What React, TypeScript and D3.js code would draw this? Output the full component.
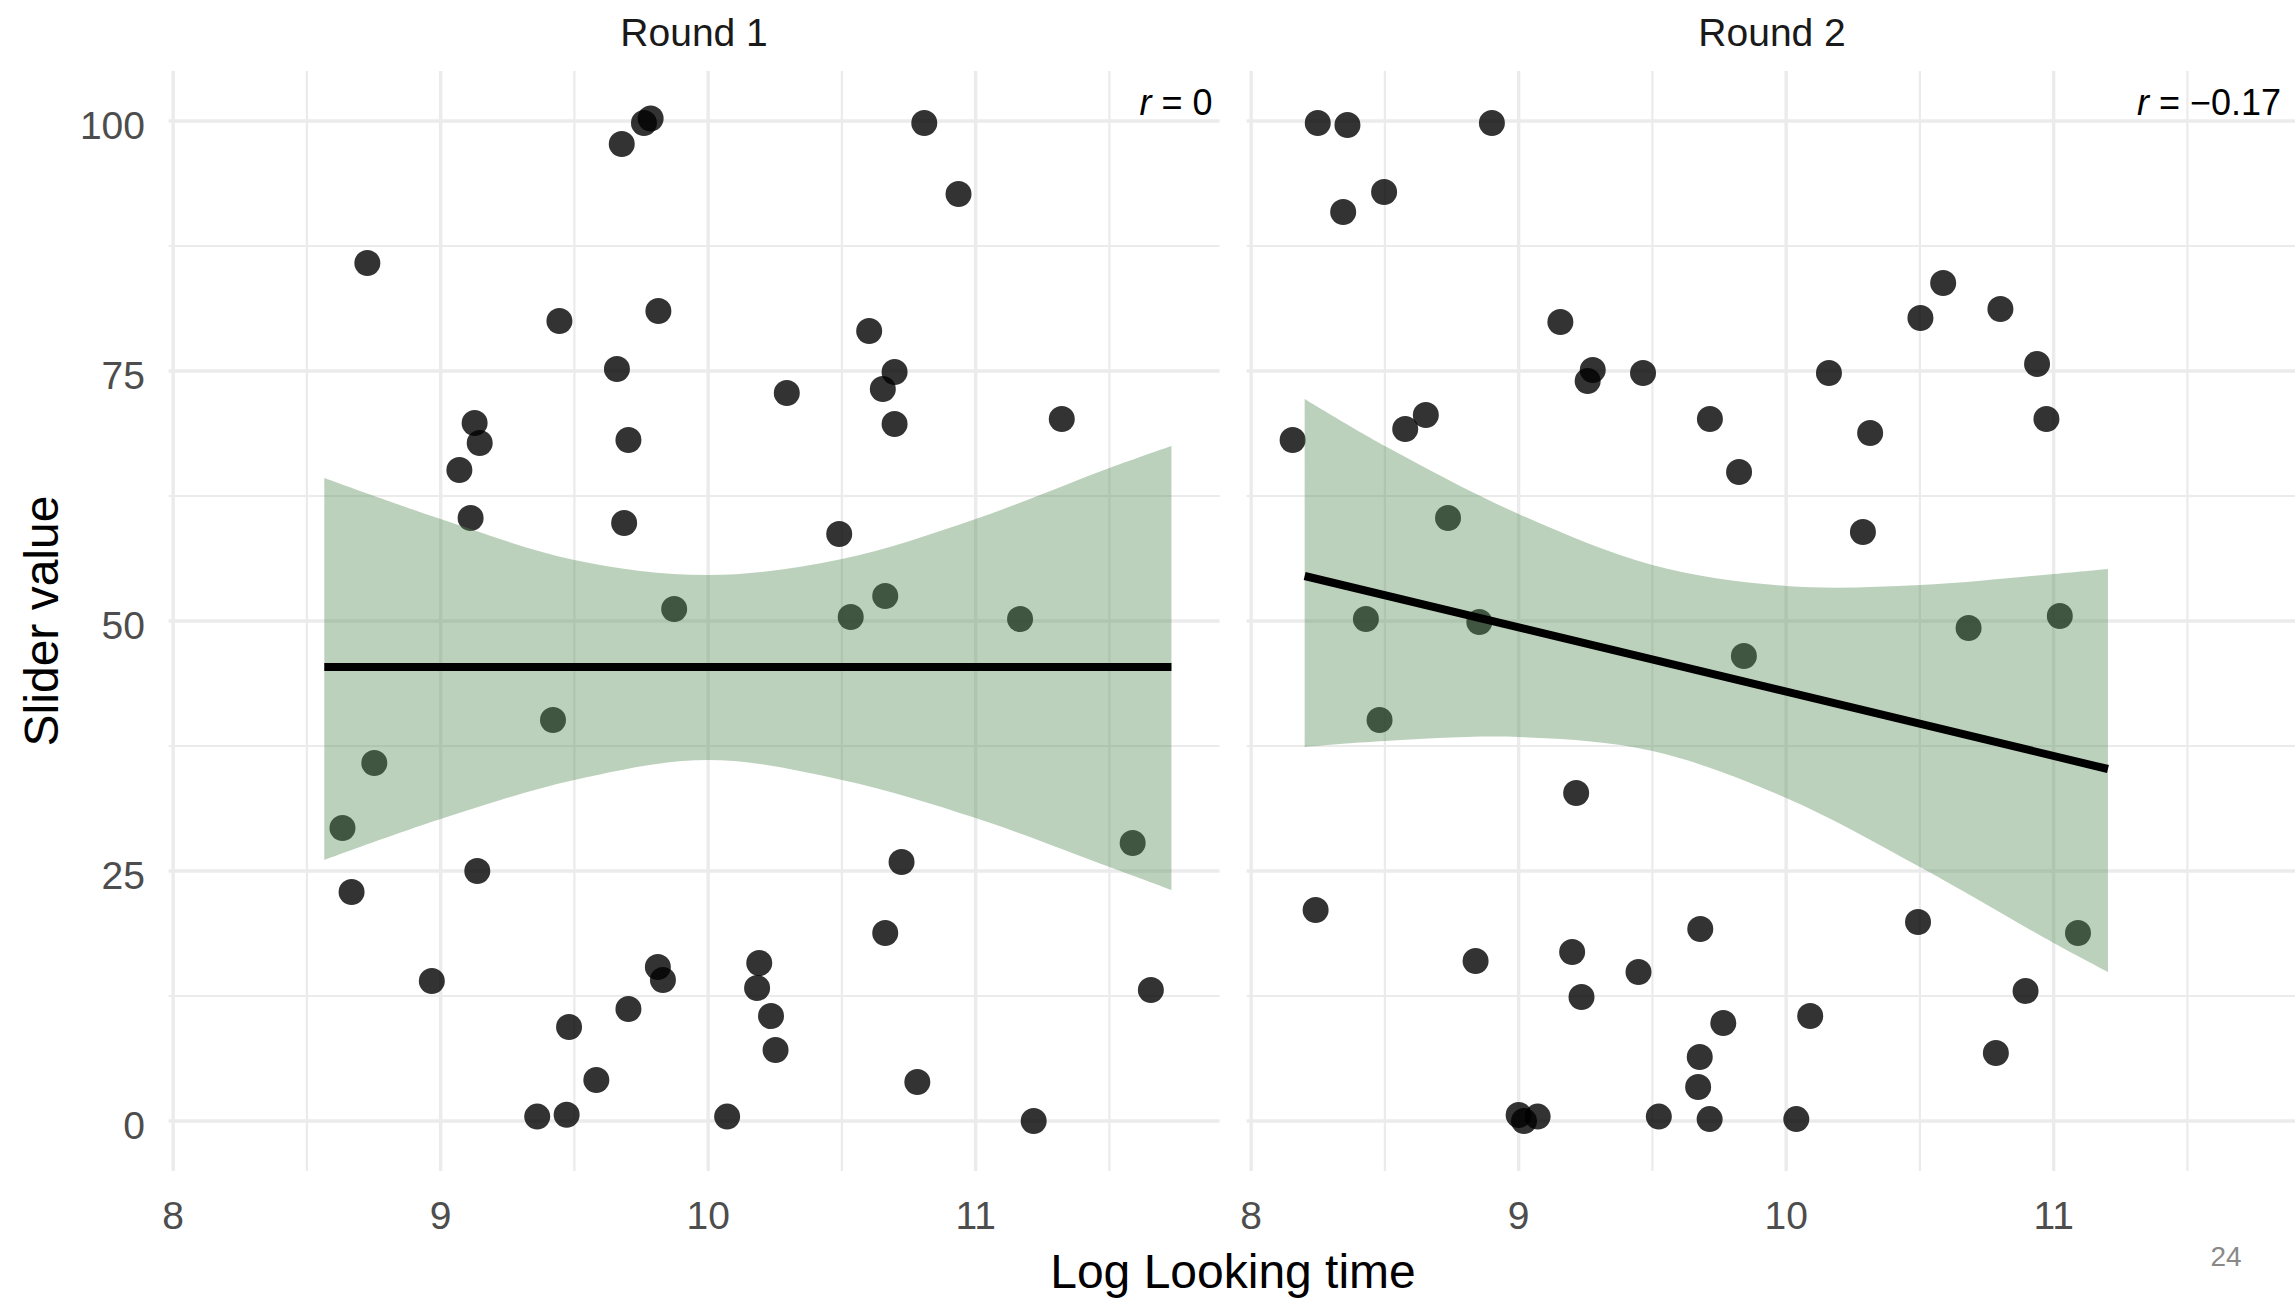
import React from 'react';
import * as d3 from 'd3';

// ---- data ----
const panelTitles = ['Round 1', 'Round 2'];
const corrValues = ['0', '\u22120.17'];
const corrLabelX = [11.886, 11.85];

const round1X = [8.726, 9.760, 9.785, 9.677, 9.444, 9.814, 9.659, 9.127, 9.146, 9.070, 9.702, 9.112, 9.686, 9.873,
  10.808, 10.936, 10.602, 10.697, 10.653, 10.697, 10.294, 11.322, 10.490, 10.662, 10.533, 11.166,
  8.752, 8.633, 9.420, 8.667, 9.137, 8.967, 9.812, 9.831, 9.702, 9.480, 9.582, 9.361, 9.471,
  10.723, 10.662, 10.191, 10.183, 10.235, 10.252, 10.782, 10.071, 11.217, 11.655, 11.587];
const round1Y = [85.8, 99.8, 100.25, 97.7, 80.0, 81.0, 75.2, 69.8, 67.8, 65.1, 68.1, 60.3, 59.8, 51.2,
  99.8, 92.7, 79.0, 74.9, 73.2, 69.7, 72.8, 70.2, 58.7, 52.5, 50.4, 50.2,
  35.8, 29.3, 40.1, 22.9, 25.0, 14.0, 15.4, 14.1, 11.2, 9.4, 4.1, 0.44, 0.62,
  25.9, 18.8, 15.8, 13.3, 10.5, 7.1, 3.9, 0.44, 0, 13.1, 27.8];

const round2X = [8.249, 8.360, 8.900, 8.497, 8.344, 9.156, 9.277, 9.258, 9.465, 9.715, 9.824, 8.155, 8.576, 8.653,
  8.736, 8.429, 8.853, 10.587, 10.502, 10.801, 10.938, 10.973, 10.160, 10.314, 10.287, 11.023, 10.682,
  8.480, 9.842, 9.215, 8.241, 8.839, 9.200, 9.235, 9.448, 9.679, 9.765, 9.677, 9.671, 9.524, 9.714,
  9.000, 9.020, 9.071, 11.091, 10.493, 10.895, 10.784, 10.090, 10.038];
const round2Y = [99.8, 99.6, 99.8, 92.9, 90.9, 79.9, 75.1, 74.0, 74.8, 70.2, 64.9, 68.1, 69.2, 70.6,
  60.3, 50.2, 49.9, 83.8, 80.3, 81.2, 75.7, 70.2, 74.8, 68.8, 58.9, 50.5, 49.3,
  40.1, 46.5, 32.8, 21.1, 16.0, 16.9, 12.4, 14.9, 19.2, 9.8, 6.4, 3.4, 0.44, 0.19,
  0.6, 0, 0.44, 18.8, 19.9, 13.0, 6.8, 10.5, 0.19];

// fitted lines (end points) and confidence bands
const fit1X = [8.565, 11.732];
const fit1Y = [45.4, 45.4];
const fit2X = [8.2, 11.203];
const fit2Y = [54.5, 35.2];

const band1X = [8.565, 9.0, 9.5, 10.0, 10.5, 11.0, 11.5, 11.732];
const band1Lo = [26.1, 30.2, 34.1, 36.1, 34.1, 30.3, 25.4, 23.1];
const band1Hi = [64.3, 60.2, 56.1, 54.6, 56.2, 60.2, 65.3, 67.5];
const band2X = [8.2, 8.5, 9.0, 9.5, 10.0, 10.5, 11.0, 11.203];
const band2Lo = [37.4, 38.0, 38.4, 37.0, 32.3, 25.4, 17.8, 14.9];
const band2Hi = [72.2, 67.5, 60.7, 55.6, 53.5, 53.6, 54.7, 55.2];

const xTicks = [8, 9, 10, 11];
const xMinor = [8.5, 9.5, 10.5, 11.5];
const yTicks = [0, 25, 50, 75, 100];
const yMinor = [12.5, 37.5, 62.5, 87.5];

const panels = [
  { xs: round1X, ys: round1Y, fx: fit1X, fy: fit1Y, bx: band1X, lo: band1Lo, hi: band1Hi },
  { xs: round2X, ys: round2Y, fx: fit2X, fy: fit2Y, bx: band2X, lo: band2Lo, hi: band2Hi },
];

const W = 2295;
const H = 1303;
const font = '"Liberation Sans", Arial, sans-serif';

export default function App() {
  const panelLeft = [168.6, 1246.6];
  const panelW = 1051;
  const top = 71;
  const bottom = 1171;

  const y = d3.scaleLinear().domain([-5, 105]).range([bottom, top]);

  return (
    <svg width={W} height={H} style={{ position: 'absolute', left: 0, top: 0, background: '#fff' }}
      fontFamily={font}>
      {panels.map((p, i) => {
        const x = d3.scaleLinear().domain([7.983, 11.912]).range([panelLeft[i], panelLeft[i] + panelW]);
        const area = d3.area<number>()
          .x((_, j) => x(p.bx[j]))
          .y0((_, j) => y(p.lo[j]))
          .y1((_, j) => y(p.hi[j]))
          .curve(d3.curveCatmullRom.alpha(0.5));
        const line = d3.line<number>()
          .x((_, j) => x(p.fx[j]))
          .y((_, j) => y(p.fy[j]));
        const x0 = panelLeft[i];
        const x1 = panelLeft[i] + panelW;
        return (
          <g key={i}>
            {/* grid */}
            {yMinor.map(v => (
              <line key={'ym' + v} x1={x0} x2={x1} y1={y(v)} y2={y(v)} stroke="#EBEBEB" strokeWidth={2.2} />
            ))}
            {xMinor.map(v => (
              <line key={'xm' + v} x1={x(v)} x2={x(v)} y1={top} y2={bottom} stroke="#EBEBEB" strokeWidth={2.2} />
            ))}
            {yTicks.map(v => (
              <line key={'y' + v} x1={x0} x2={x1} y1={y(v)} y2={y(v)} stroke="#EBEBEB" strokeWidth={3.4} />
            ))}
            {xTicks.map(v => (
              <line key={'x' + v} x1={x(v)} x2={x(v)} y1={top} y2={bottom} stroke="#EBEBEB" strokeWidth={3.4} />
            ))}

            {/* points */}
            {p.xs.map((v, j) => (
              <circle key={j} cx={x(v)} cy={y(p.ys[j])} r={13} fill="#000" fillOpacity={0.8} />
            ))}

            {/* smooth */}
            <path d={area(p.bx) || ''} fill="rgb(84,140,88)" fillOpacity={0.4} />
            <path d={line(p.fx) || ''} fill="none" stroke="#000" strokeWidth={8} />

            {/* x tick labels */}
            {xTicks.map(v => (
              <text key={'xl' + v} x={x(v)} y={1229} textAnchor="middle" fontSize={39} fill="#4D4D4D">{v}</text>
            ))}

            {/* strip title */}
            <text x={(x0 + x1) / 2} y={46} textAnchor="middle" fontSize={39} fill="#1A1A1A">{panelTitles[i]}</text>

            {/* correlation label */}
            <text x={x(corrLabelX[i])} y={115} textAnchor="end" fontSize={36} fill="#000">
              <tspan fontStyle="italic">r</tspan>
              <tspan>{' = ' + corrValues[i]}</tspan>
            </text>
          </g>
        );
      })}

      {/* y tick labels */}
      {yTicks.map(v => (
        <text key={'yl' + v} x={145} y={y(v) + 18} textAnchor="end" fontSize={39} fill="#4D4D4D">{v}</text>
      ))}

      {/* axis titles */}
      <text x={1233} y={1288} textAnchor="middle" fontSize={48} fill="#000">Log Looking time</text>
      <text transform={`translate(58, ${(top + bottom) / 2}) rotate(-90)`} textAnchor="middle" fontSize={48} fill="#000">
        Slider value
      </text>

      {/* slide number */}
      <text x={2226} y={1266} textAnchor="middle" fontSize={28} fill="#898989">24</text>
    </svg>
  );
}
